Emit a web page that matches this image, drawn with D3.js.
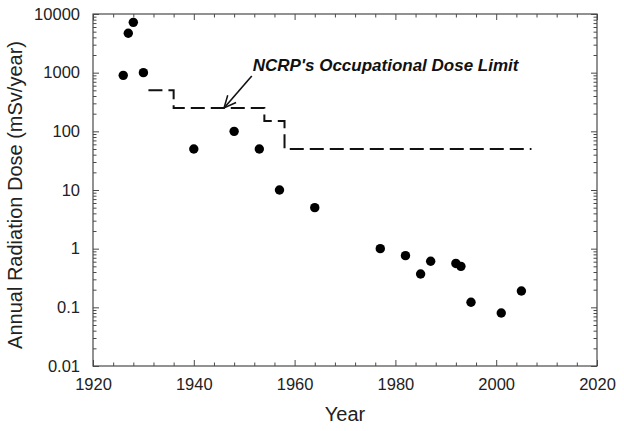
<!DOCTYPE html>
<html><head><meta charset="utf-8">
<script src="https://cdn.jsdelivr.net/npm/d3@7"></script>
<style>body{margin:0;background:#fff}svg{display:block}text{font-family:"Liberation Sans",Arial,sans-serif}</style>
</head><body><svg id="c" width="624" height="431"></svg>
<script>
// Data
const years = [1926, 1927, 1928, 1930, 1940, 1948, 1953, 1957, 1964, 1977, 1982, 1985, 1987, 1992, 1993, 1995, 2001, 2005];
const doses = [900, 4700, 7200, 1000, 50, 100, 50, 10, 5, 1.0, 0.76, 0.37, 0.61, 0.56, 0.50, 0.122, 0.08, 0.19];
const limitYears = [1931, 1936, 1954, 1958, 2007];
const limitValues = [500, 250, 150, 50, 50];
const yTickValues = [10000, 1000, 100, 10, 1, 0.1, 0.01];
const yTickLabels = ["10000", "1000", "100", "10", "1", "0.1", "0.01"];
const xTickValues = [1920, 1940, 1960, 1980, 2000, 2020];
const annotationText = "NCRP's Occupational Dose Limit";
const arrowTip = [1946, 250];
const arrowTail = [1951.5, 880];
const textAnchorPt = [1951.7, 1080];

const svg = d3.select("#c");
const L = 93, R = 597, T = 14, B = 366;
const x = d3.scaleLinear().domain([1920, 2020]).range([L, R]);
const y = d3.scaleLog().domain([0.01, 10000]).range([B, T]);
const axisColor = "#4a4a4a";

// minor ticks
const xMinor = d3.range(1920, 2021, 4).filter(v => v % 20 !== 0);
const yMinor = [];
for (let e = -2; e < 4; e++) for (let m = 2; m <= 9; m++) yMinor.push(m * Math.pow(10, e));

function styleAxis(g) {
  g.select(".domain").remove();
  g.selectAll("line").attr("stroke", axisColor).attr("stroke-width", 1);
}

// bottom
svg.append("g").attr("transform", `translate(0,${B})`)
  .call(d3.axisBottom(x).tickValues(xTickValues).tickSize(-6).tickFormat(d3.format("d")).tickPadding(12))
  .call(styleAxis)
  .call(g => g.selectAll("text").attr("font-size", 16.5).attr("fill", "#222"));
svg.append("g").attr("transform", `translate(0,${B})`)
  .call(d3.axisBottom(x).tickValues(xMinor).tickSize(-3.5).tickFormat(""))
  .call(styleAxis);
// top
svg.append("g").attr("transform", `translate(0,${T})`)
  .call(d3.axisTop(x).tickValues(xTickValues).tickSize(-6).tickFormat(""))
  .call(styleAxis);
svg.append("g").attr("transform", `translate(0,${T})`)
  .call(d3.axisTop(x).tickValues(xMinor).tickSize(-3.5).tickFormat(""))
  .call(styleAxis);
// left
svg.append("g").attr("transform", `translate(${L},0)`)
  .call(d3.axisLeft(y).tickValues(yTickValues).tickSize(-6).tickPadding(13)
    .tickFormat((d, i) => yTickLabels[i]))
  .call(styleAxis)
  .call(g => g.selectAll("text").attr("font-size", 16.5).attr("fill", "#222"));
svg.append("g").attr("transform", `translate(${L},0)`)
  .call(d3.axisLeft(y).tickValues(yMinor).tickSize(-3.5).tickFormat(""))
  .call(styleAxis);
// right
svg.append("g").attr("transform", `translate(${R},0)`)
  .call(d3.axisRight(y).tickValues(yTickValues).tickSize(-6).tickFormat(""))
  .call(styleAxis);
svg.append("g").attr("transform", `translate(${R},0)`)
  .call(d3.axisRight(y).tickValues(yMinor).tickSize(-3.5).tickFormat(""))
  .call(styleAxis);

// frame
svg.append("rect").attr("x", L).attr("y", T).attr("width", R - L).attr("height", B - T)
  .attr("fill", "none").attr("stroke", axisColor).attr("stroke-width", 1.2);

// limit step line
const line = d3.line().x((d, i) => x(limitYears[i])).y((d, i) => y(limitValues[i])).curve(d3.curveStepAfter);
svg.append("path").datum(limitValues).attr("d", line)
  .attr("fill", "none").attr("stroke", "#111").attr("stroke-width", 2).attr("stroke-dasharray", "14,6");

// points
svg.append("g").selectAll("circle").data(years).join("circle")
  .attr("cx", d => x(d)).attr("cy", (d, i) => y(doses[i])).attr("r", 4.7).attr("fill", "#000");

// annotation
svg.append("defs").append("marker").attr("id", "ah").attr("viewBox", "0 0 14 14")
  .attr("refX", 13).attr("refY", 7).attr("markerWidth", 14).attr("markerHeight", 14)
  .attr("markerUnits", "userSpaceOnUse").attr("orient", "auto")
  .append("path").attr("d", "M1,1.5 L13,7 L1,12.5").attr("fill", "none").attr("stroke", "#111").attr("stroke-width", 1.5);
svg.append("line")
  .attr("x1", x(arrowTail[0])).attr("y1", y(arrowTail[1]))
  .attr("x2", x(arrowTip[0])).attr("y2", y(arrowTip[1]))
  .attr("stroke", "#111").attr("stroke-width", 1.6).attr("marker-end", "url(#ah)");
svg.append("text").attr("x", x(textAnchorPt[0])).attr("y", y(textAnchorPt[1]))
  .attr("font-size", 17).attr("font-weight", "bold").attr("font-style", "italic").attr("fill", "#111")
  .text(annotationText);

// titles
svg.append("text").attr("x", (L + R) / 2).attr("y", 421).attr("text-anchor", "middle")
  .attr("font-size", 20).attr("fill", "#222").text("Year");
svg.append("text").attr("transform", `translate(22,${(T + B) / 2 + 5}) rotate(-90)`).attr("text-anchor", "middle")
  .attr("font-size", 20).attr("fill", "#222").text("Annual Radiation Dose (mSv/year)");
</script></body></html>
